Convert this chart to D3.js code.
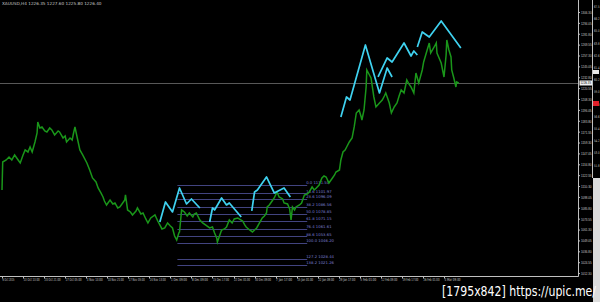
<!DOCTYPE html>
<html>
<head>
<meta charset="utf-8">
<script src="https://cdn.jsdelivr.net/npm/d3@7"></script>
<style>
  body { margin:0; background:#000; }
  svg { display:block; font-family:"DejaVu Sans", sans-serif; }
  .axis text { fill:#c8c8c8; font-size:4.2px; }
  .axis path, .axis line { stroke:#c0c0c0; }
</style>
</head>
<body>
<svg id="chart"></svg>
<script>
// XAUUSD H4, bar number -> close price
var priceBars = [0,1,6,10,14,18,23,26,30,33,37,40,43,47,50,51,54,57,61,64,68,71,75,80,82,87,90,92,97,100,102,104,107,111,115,121,125,129,134,137,141,144,146,149,154,158,161,165,168,172,175,176,179,183,186,191,193,198,201,205,208,212,218,222,225,228,232,236,240,243,246,249,252,253,256,260,264,267,272,274,277,282,286,290,296,300,303,306,307,310,313,317,320,324,328,331,336,338,343,346,348,353,357,360,363,367,371,374,377,378,381,384,388,392,395,400,402,407,410,412,414,417,419,424,427,431,435,438,442,445,448,452,456,459,462,466,471,474,476,481,483,486,489,492,495,499,502,505,509,512,513,516,519,520,523,526,530,533,538,542,545,547,552,555,559,563,566,569,573,577,580,583,587,590,594,599,601,606,609,611,616,619,620,623,626,630,633,634,637,640,641,644,647,648,651];
var priceValues = [1105.87,1137.40,1139.65,1143.03,1139.65,1145.28,1139.65,1136.27,1145.28,1150.91,1148.66,1154.29,1148.66,1159.92,1170.05,1182.44,1175.68,1176.81,1172.30,1171.18,1175.68,1173.43,1167.80,1172.30,1171.18,1164.42,1166.67,1159.92,1164.42,1162.17,1170.05,1176.81,1165.55,1150.91,1145.28,1136.27,1128.39,1119.38,1114.88,1108.12,1102.49,1097.99,1093.48,1088.98,1094.61,1090.11,1091.23,1085.60,1086.73,1091.23,1094.61,1100.24,1083.35,1081.10,1077.72,1082.22,1085.60,1078.85,1079.97,1073.22,1068.71,1074.34,1077.72,1070.96,1066.46,1061.96,1063.08,1068.71,1065.33,1063.08,1054.07,1049.57,1057.45,1058.58,1083.35,1081.10,1076.59,1079.97,1075.47,1078.85,1079.97,1072.09,1068.71,1066.46,1063.08,1064.21,1057.45,1051.82,1047.32,1054.07,1060.83,1061.96,1064.21,1072.09,1068.71,1073.22,1074.34,1073.22,1070.96,1066.46,1064.21,1060.83,1058.58,1060.83,1063.08,1068.71,1074.34,1076.59,1079.97,1086.73,1088.98,1092.36,1096.86,1103.62,1097.99,1095.74,1091.23,1090.11,1084.48,1072.09,1086.73,1083.35,1086.73,1088.98,1091.23,1100.24,1101.37,1103.62,1109.25,1105.87,1108.12,1111.50,1119.38,1121.63,1120.51,1113.75,1119.38,1122.76,1126.14,1128.39,1139.65,1148.66,1150.91,1155.41,1159.92,1164.42,1176.81,1192.57,1195.95,1188.07,1184.69,1195.95,1221.85,1240.99,1236.49,1231.98,1210.59,1199.33,1203.83,1207.21,1211.71,1215.09,1203.83,1192.57,1199.33,1203.83,1211.71,1218.47,1215.09,1229.73,1225.23,1221.85,1215.09,1237.61,1226.35,1240.99,1250.00,1263.51,1271.39,1260.13,1266.89,1271.39,1260.13,1254.50,1248.87,1233.11,1257.88,1274.77,1263.51,1255.63,1240.99,1231.98,1221.85,1227.48,1226.35];

// zigzag polylines (bar, price)
var zigBars = [
  [225,233,243,253,263,270,282],
  [296,300,303,313,320,324,341],
  [356,360,364,377,388,402,411],
  [483,491,496,518,538,549,556],
  [536,549,556,573,583,587,592],
  [592,599,609,626,654]
];
var zigValues = [
  [1069.84,1092.36,1081.10,1108.12,1090.11,1095.74,1085.60],
  [1069.84,1085.60,1083.35,1096.86,1088.98,1091.23,1075.47],
  [1082.22,1103.62,1105.87,1120.51,1102.49,1108.12,1097.99],
  [1188.07,1210.59,1207.21,1269.14,1215.09,1243.24,1233.11],
  [1233.11,1254.50,1250.00,1271.39,1256.75,1262.38,1257.88],
  [1266.89,1283.78,1278.15,1296.16,1265.76]
];

// fibonacci retracement
var fibLevels = ["0.0","14.6","23.6","38.2","50.0","61.8","76.4","88.6","100.0","127.2","138.2"];
var fibPrices = [1111.50,1101.97,1096.09,1086.56,1078.85,1071.15,1061.61,1053.65,1046.20,1028.44,1021.26];
var fibStartBar = 250, fibEndBar = 435;

var priceTicks = [1306.30,1294.05,1281.80,1269.55,1257.30,1245.05,1232.80,1220.55,1208.30,1196.05,1183.80,1171.55,1159.30,1147.05,1134.80,1122.55,1110.30,1098.05,1085.80,1073.55,1061.30,1049.05,1036.80,1024.55,1012.30];
var timeBars = [0,30,60,90,120,150,180,210,240,270,300,330,360,390,420,450,480,510,540,570,600,630];
var timeLabels = ["6 Oct 2015","13 Oct 13:00","20 Oct 21:00","27 Oct 05:00","3 Nov 13:00","10 Nov 21:00","17 Nov 05:00","24 Nov 13:00","1 Dec 09:00","8 Dec 09:00","15 Dec 17:00","22 Dec 01:00","30 Dec 09:00","7 Jan 17:00","15 Jan 01:00","22 Jan 09:00","29 Jan 17:00","5 Feb 01:00","12 Feb 09:00","19 Feb 17:00","26 Feb 01:00","4 Mar 09:00"];

var stripLabels = ["67.5","66.2","65.0","63.8","62.6","61.4","60.2","59.0","57.8","56.6","55.4","54.2","53.0","51.8"];

var lastPrice = 1226.35;
var header = "XAUUSD,H4  1226.35 1227.60 1225.80 1226.40";

var screen = {width:600, height:302};
var plot = {left:0, top:0, width:578, height:276};

var svg = d3.select("#chart")
    .attr("width", screen.width)
    .attr("height", screen.height);

svg.append("rect")
    .attr("width", screen.width)
    .attr("height", screen.height)
    .attr("fill", "#000");

var xScale = d3.scaleLinear()
    .domain([0, 630])
    .range([2, 444]);
var yScale = d3.scaleLinear()
    .domain([1009.0, 1319.8])
    .range([plot.height, 0]);

var g = svg.append("g").attr("class", "graph");

// fib levels
var fib = g.append("g").classed("fib", true);
fib.selectAll("line")
    .data(fibPrices)
    .enter()
    .append("line")
    .attr("x1", xScale(fibStartBar))
    .attr("x2", xScale(fibEndBar))
    .attr("y1", function(p){ return Math.round(yScale(p)) + 0.5; })
    .attr("y2", function(p){ return Math.round(yScale(p)) + 0.5; })
    .attr("stroke", "#4a4c8e")
    .attr("stroke-width", 0.9);
fib.selectAll("text")
    .data(fibPrices)
    .enter()
    .append("text")
    .text(function(p, i){ return fibLevels[i] + "  " + p.toFixed(2); })
    .attr("x", xScale(fibEndBar) - 1)
    .attr("y", function(p){ return yScale(p) - 0.8; })
    .attr("font-size", 3.8)
    .attr("fill", "#7b7fd0");

// current price line
g.append("line")
    .attr("x1", 0)
    .attr("x2", plot.width)
    .attr("y1", Math.round(yScale(lastPrice)) + 0.5)
    .attr("y2", Math.round(yScale(lastPrice)) + 0.5)
    .attr("stroke", "#6e6e6e")
    .attr("stroke-width", 0.8);

// price line
var lineGenerator = d3.line()
    .x(function(d){ return xScale(d[0]); })
    .y(function(d){ return yScale(d[1]); });

g.append("path")
    .datum(priceBars.map(function(b, i){ return [b, priceValues[i]]; }))
    .attr("d", lineGenerator)
    .attr("fill", "none")
    .attr("stroke", "#1a961a")
    .attr("stroke-width", 1.5)
    .attr("stroke-linejoin", "miter");

// zigzags
g.selectAll(".zig")
    .data(zigBars)
    .enter()
    .append("path")
    .classed("zig", true)
    .attr("d", function(bars, k){
        return lineGenerator(bars.map(function(b, i){ return [b, zigValues[k][i]]; }));
    })
    .attr("fill", "none")
    .attr("stroke", "#3fd2f0")
    .attr("stroke-width", 1.7)
    .attr("stroke-linejoin", "round");

// price axis
var yAxis = d3.axisRight(yScale)
    .tickValues(priceTicks)
    .tickFormat(d3.format(".2f"))
    .tickSize(2)
    .tickPadding(1.5);
var ya = svg.append("g")
    .attr("class", "axis")
    .attr("transform", "translate(" + plot.width + ",0)")
    .call(yAxis);
ya.select(".domain").attr("d", "M0.5,0V" + plot.height + ".5");
ya.selectAll("text").attr("x", 3).attr("textLength", 10.5).attr("lengthAdjust", "spacingAndGlyphs");
// hide the tick label under the last price box
ya.selectAll(".tick").filter(function(d){ return Math.abs(yScale(d) - yScale(lastPrice)) < 5; })
    .select("text").attr("opacity", 0);

// last price box
svg.append("rect")
    .attr("x", plot.width + 1.5)
    .attr("y", yScale(lastPrice) - 2.5)
    .attr("width", 12.5)
    .attr("height", 5)
    .attr("fill", "#f0f0f0");
svg.append("text")
    .text(lastPrice.toFixed(2))
    .attr("x", plot.width + 2.5)
    .attr("y", yScale(lastPrice) + 1.5)
    .attr("font-size", 4.2)
    .attr("textLength", 10.5)
    .attr("lengthAdjust", "spacingAndGlyphs")
    .attr("fill", "#000");

// time axis
var xa = svg.append("g")
    .attr("class", "axis")
    .attr("transform", "translate(0," + plot.height + ")");
xa.append("line")
    .attr("x1", 0).attr("x2", plot.width + 0.5)
    .attr("y1", 0.5).attr("y2", 0.5);
xa.selectAll(".tk")
    .data(timeBars)
    .enter()
    .append("line")
    .attr("class", "tk")
    .attr("x1", function(b){ return Math.round(xScale(b)) + 0.5; })
    .attr("x2", function(b){ return Math.round(xScale(b)) + 0.5; })
    .attr("y1", 0.5).attr("y2", 2.5);
xa.selectAll("text")
    .data(timeBars)
    .enter()
    .append("text")
    .text(function(b, i){ return timeLabels[i]; })
    .attr("x", function(b){ return xScale(b) + 0.5; })
    .attr("y", 5)
    .attr("textLength", function(b, i){ return i == 0 ? 12 : 16; })
    .attr("lengthAdjust", "spacingAndGlyphs");

// header
svg.append("text")
    .text(header)
    .attr("x", 2)
    .attr("y", 5)
    .attr("font-size", 4.2)
    .attr("fill", "#c8c8c8");

// second window strip at right edge
svg.append("line")
    .attr("x1", 592.5).attr("x2", 592.5)
    .attr("y1", 0).attr("y2", 178)
    .attr("stroke", "#c0c0c0");
svg.selectAll(".strip")
    .data(stripLabels)
    .enter()
    .append("text")
    .attr("class", "strip")
    .text(function(d){ return d; })
    .attr("x", 594)
    .attr("y", function(d, i){ return 8 + i * 12.2; })
    .attr("font-size", 3.6)
    .attr("textLength", 5.5)
    .attr("lengthAdjust", "spacingAndGlyphs")
    .attr("fill", "#c8c8c8");
svg.append("rect").attr("x", 593).attr("y", 70).attr("width", 6).attr("height", 4).attr("fill", "#e8e8e8");
svg.append("rect").attr("x", 593).attr("y", 101).attr("width", 6).attr("height", 5).attr("fill", "#e0202a");
svg.append("rect").attr("x", 593).attr("y", 178).attr("width", 7).attr("height", 124).attr("fill", "#dcdcdc");

// watermark
svg.append("text")
    .text("[1795x842] https://upic.me/")
    .attr("x", 442)
    .attr("y", 296)
    .attr("font-size", 14)
    .attr("textLength", 154)
    .attr("lengthAdjust", "spacingAndGlyphs")
    .attr("fill", "#fff");
</script>
</body>
</html>
